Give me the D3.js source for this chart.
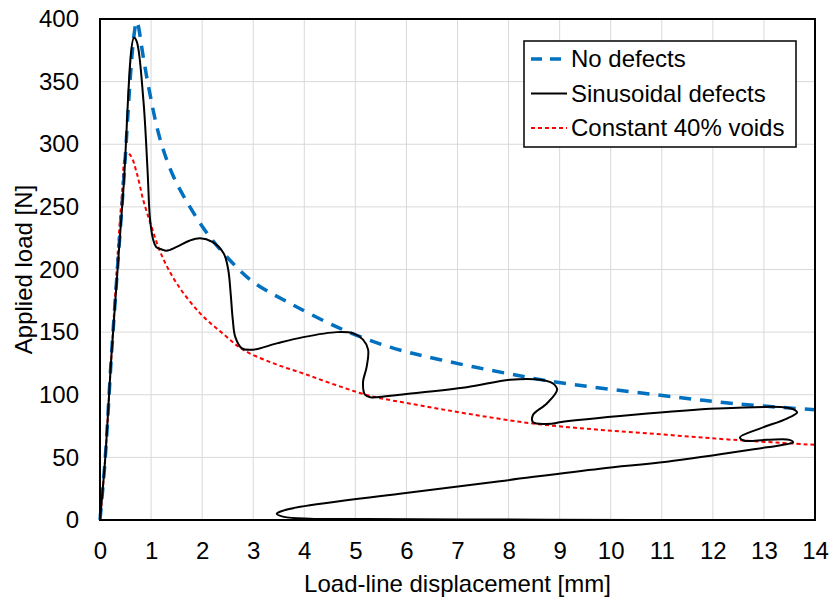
<!DOCTYPE html>
<html>
<head>
<meta charset="utf-8">
<script src="https://cdn.jsdelivr.net/npm/d3@7"></script>
<style>
  body { margin: 0; background: #fff; }
  svg text { font-family: Arial, "Liberation Sans", sans-serif; fill: #000; }
</style>
</head>
<body>
<svg id="chart" width="831" height="599"></svg>
<script>
// tick values
let xTicks = d3.range(0, 15, 1);
let yTicks = d3.range(0, 401, 50);

// series: [displacement mm, load N]
let noDefects = [
  [0, 0], [0.1, 48], [0.23, 135], [0.46, 268], [0.66, 385], [0.72, 398],
  [0.85, 369], [0.95, 346], [1.17, 305], [1.43, 275], [1.76, 250], [2.15, 226],
  [2.6, 205], [3.0, 190], [3.72, 173], [4.7, 153], [5.68, 138], [6.66, 128],
  [7.97, 117], [8.95, 110], [10.9, 100], [12.4, 93], [14, 88]
];

let sinusoidal = [
  [0, 0], [0.1, 48], [0.23, 135], [0.46, 265], [0.666, 385], [0.72, 382],
  [0.85, 335], [0.93, 280], [0.98, 240], [1.04, 224], [1.1, 218], [1.21, 216],
  [1.3, 215], [1.5, 218], [1.75, 223], [1.96, 225], [2.2, 222], [2.42, 213],
  [2.51, 200], [2.56, 180], [2.6, 160], [2.65, 146], [2.78, 137], [3.0, 136],
  [3.46, 141], [3.98, 146], [4.64, 150], [4.96, 149], [5.15, 144], [5.25, 136],
  [5.22, 122], [5.15, 110], [5.19, 100], [5.3, 98], [5.42, 98], [5.87, 100],
  [7.18, 106], [8.03, 112], [8.62, 112], [8.87, 109], [8.95, 104], [8.75, 93],
  [8.48, 84], [8.48, 78], [8.87, 77], [9.0, 78], [10.45, 84], [12.08, 89],
  [13.38, 90], [13.6, 88], [13.65, 86], [13.45, 81], [12.92, 73], [12.53, 66],
  [12.6, 63.5], [13.06, 64], [13.5, 64], [13.57, 62], [13.38, 60], [13.06, 58],
  [11.1, 46.5], [9.79, 41], [7.83, 31], [5.87, 21], [3.92, 10.5], [3.55, 7],
  [3.46, 5], [3.6, 2.5], [4.11, 1], [5.2, 0.8], [7.5, 0.4], [10.48, 0]
];

let constVoids = [
  [0, 0], [0.1, 48], [0.23, 135], [0.42, 255], [0.52, 293], [0.6, 291],
  [0.72, 277], [0.85, 255], [1.01, 234], [1.2, 212], [1.5, 189], [1.96, 165],
  [2.4, 149], [2.8, 136], [3.4, 125], [3.98, 117], [4.6, 108], [5.3, 99],
  [6.2, 92], [7.18, 85], [8.48, 77], [9.79, 72], [11.1, 68], [12.4, 64], [14, 60]
];

let legendNames = ['No defects', 'Sinusoidal defects', 'Constant 40% voids'];

let margin = {left: 100, right: 16, top: 19, bottom: 79};
let W = 831, H = 599;
let fontSize = '24px';

let x = d3.scaleLinear().domain([0, 14]).range([margin.left, W - margin.right]);
let y = d3.scaleLinear().domain([0, 400]).range([H - margin.bottom, margin.top]);

let svg = d3.select('#chart');

// grid
svg.append('g')
  .selectAll('line.vgrid')
  .data(xTicks)
  .enter()
  .append('line')
  .attr('x1', d => x(d)).attr('x2', d => x(d))
  .attr('y1', y(0)).attr('y2', y(400))
  .style('stroke', '#d9d9d9').style('stroke-width', '1px');

svg.append('g')
  .selectAll('line.hgrid')
  .data(yTicks)
  .enter()
  .append('line')
  .attr('x1', x(0)).attr('x2', x(14))
  .attr('y1', d => y(d)).attr('y2', d => y(d))
  .style('stroke', '#d9d9d9').style('stroke-width', '1px');

// axes (labels only, lines drawn by the frame)
let xAxis = svg.append('g')
  .attr('transform', `translate(0, ${y(0)})`)
  .call(d3.axisBottom(x).tickValues(xTicks).tickSize(0).tickPadding(22));
let yAxis = svg.append('g')
  .attr('transform', `translate(${x(0)}, 0)`)
  .call(d3.axisLeft(y).tickValues(yTicks).tickSize(0).tickPadding(21));

[xAxis, yAxis].forEach(a => {
  a.select('.domain').remove();
  a.selectAll('text').style('font-size', fontSize).style('font-family', 'Arial, "Liberation Sans", sans-serif');
});

// series
let line = d3.line()
  .x(d => x(d[0]))
  .y(d => y(d[1]))
  .curve(d3.curveCatmullRom.alpha(0.5));

let plot = svg.append('g');

plot.append('path')
  .datum(constVoids)
  .attr('d', line)
  .style('fill', 'none')
  .style('stroke', '#ff0000')
  .style('stroke-width', '2px')
  .style('stroke-dasharray', '4,3');

plot.append('path')
  .datum(noDefects)
  .attr('d', line)
  .style('fill', 'none')
  .style('stroke', '#0070c0')
  .style('stroke-width', '3.5px')
  .style('stroke-dasharray', '12,9');

plot.append('path')
  .datum(sinusoidal)
  .attr('d', line)
  .style('fill', 'none')
  .style('stroke', '#000')
  .style('stroke-width', '2px');

// frame
svg.append('rect')
  .attr('x', x(0)).attr('y', y(400))
  .attr('width', x(14) - x(0)).attr('height', y(0) - y(400))
  .style('fill', 'none').style('stroke', '#000').style('stroke-width', '2px');

// axis titles
svg.append('text')
  .attr('x', (x(0) + x(14)) / 2)
  .attr('y', 592)
  .attr('text-anchor', 'middle')
  .style('font-size', fontSize)
  .text('Load-line displacement [mm]');

svg.append('text')
  .attr('transform', `translate(32, ${(y(0) + y(400)) / 2}) rotate(-90)`)
  .attr('text-anchor', 'middle')
  .style('font-size', fontSize)
  .text('Applied load [N]');

// legend
let legendStyles = [
  {stroke: '#0070c0', width: 3.5, dash: '11,8'},
  {stroke: '#000', width: 2, dash: null},
  {stroke: '#ff0000', width: 2, dash: '4,3'}
];

let lg = svg.append('g');
lg.append('rect')
  .attr('x', 524).attr('y', 41)
  .attr('width', 272).attr('height', 106)
  .style('fill', '#fff').style('stroke', '#000').style('stroke-width', '1.5px');

let rows = lg.selectAll('g.row')
  .data(legendNames)
  .enter()
  .append('g')
  .attr('transform', (d, i) => `translate(0, ${59 + i * 34.5})`);

rows.append('line')
  .attr('x1', 531).attr('x2', 567)
  .attr('y1', 0).attr('y2', 0)
  .style('stroke', (d, i) => legendStyles[i].stroke)
  .style('stroke-width', (d, i) => legendStyles[i].width + 'px')
  .style('stroke-dasharray', (d, i) => legendStyles[i].dash);

rows.append('text')
  .attr('x', 571)
  .attr('dy', '0.35em')
  .style('font-size', fontSize)
  .text(d => d);
</script>
</body>
</html>
